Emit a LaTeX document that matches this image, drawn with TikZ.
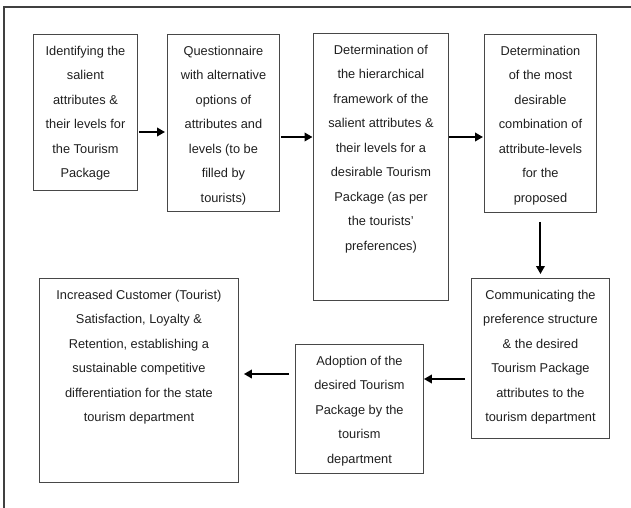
\documentclass[tikz,border=0pt]{standalone}
\usepackage{fontspec}
\setmainfont{Liberation Sans}
\usetikzlibrary{arrows.meta}
\tikzset{
  box/.style={draw=black!72, line width=0.9pt, inner sep=0pt, anchor=north west},
  arr/.style={draw=black, line width=2pt, -{Triangle[length=8pt,width=8.5pt]}},
  frameline/.style={draw=black!75, line width=1.2pt}
}
\newcommand{\boxtext}[3]{\parbox[c][#2pt][t]{#1pt}{\centering\fontsize{12.8}{24.5}\selectfont\color{black!88}\rule{0pt}{20.8pt}#3}}
\begin{document}
\begin{tikzpicture}[x=1pt,y=-1pt]
\useasboundingbox (0,0) rectangle (631,508);
\draw[frameline] (4,508) -- (4,7) -- (631,7);

\node[box] (b1) at (33,34) {\boxtext{104}{156}{Identifying the\\salient\\attributes \&\\their levels for\\the Tourism\\Package}};
\node[box] (b2) at (167,34) {\boxtext{112}{177}{Questionnaire\\with alternative\\options of\\attributes and\\levels (to be\\filled by\\tourists)}};
\node[box] (b3) at (313,33) {\boxtext{135}{267}{Determination of\\the hierarchical\\framework of the\\salient attributes \&\\their levels for a\\desirable Tourism\\Package (as per\\the tourists'\\preferences)}};
\node[box] (b4) at (484,34) {\boxtext{112}{178}{Determination\\of the most\\desirable\\combination of\\attribute-levels\\for the\\proposed}};
\node[box] (b5) at (471,278) {\boxtext{138}{160}{Communicating the\\preference structure\\\& the desired\\Tourism Package\\attributes to the\\tourism department}};
\node[box] (b7) at (295,344) {\boxtext{128}{129}{Adoption of the\\desired Tourism\\Package by the\\tourism\\department}};
\node[box] (b6) at (39,278) {\boxtext{199}{204}{Increased Customer (Tourist)\\Satisfaction, Loyalty \&\\Retention, establishing a\\sustainable competitive\\differentiation for the state\\tourism department}};

\coordinate (r1) at (0,132);
\coordinate (r2) at (0,137);
\coordinate (r5) at (0,379);
\coordinate (r6) at (0,374);

\draw[arr, shorten <=1pt, shorten >=2pt] (b1.east |- r1) -- (b2.west |- r1);
\draw[arr, shorten <=1pt, shorten >=0.5pt] (b2.east |- r2) -- (b3.west |- r2);
\draw[arr, shorten <=0pt, shorten >=1pt] (b3.east |- r2) -- (b4.west |- r2);
\draw[arr, shorten <=9pt, shorten >=4pt] (b4.south) -- (b5.north);
\draw[arr, shorten <=6pt, shorten >=0pt] (b5.west |- r5) -- (b7.east |- r5);
\draw[arr, shorten <=6pt, shorten >=5pt] (b7.west |- r6) -- (b6.east |- r6);
\end{tikzpicture}
\end{document}
